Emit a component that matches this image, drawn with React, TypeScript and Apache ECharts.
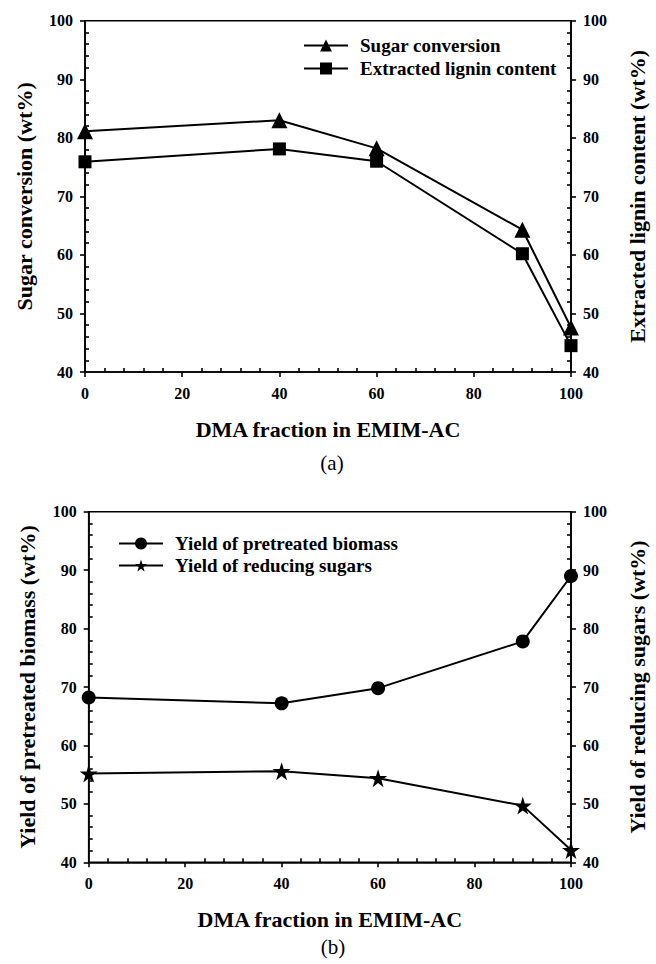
import React, { useEffect, useRef } from "react";
import * as echarts from "echarts";

const dmaFraction = [0, 40, 60, 90, 100];
const sugarConversion = [81.1, 83.0, 78.2, 64.3, 47.6];
const ligninContent = [75.9, 78.1, 76.0, 60.2, 44.5];
const pretreatedYield = [68.2, 67.2, 69.8, 77.8, 89.0];
const reducingSugars = [55.2, 55.6, 54.4, 49.7, 42.1];

const xTitle = "DMA fraction in EMIM-AC";
const panelA = { left: "Sugar conversion (wt%)", right: "Extracted lignin content (wt%)", tag: "(a)" };
const panelB = { left: "Yield of pretreated biomass (wt%)", right: "Yield of reducing sugars (wt%)", tag: "(b)" };

const FONT = "'Liberation Serif', 'Times New Roman', serif";
const STAR = "path://M50,0 L61,35 L98,35 L68,57 L79,91 L50,70 L21,91 L32,57 L2,35 L39,35 Z";

const yMinor: number[] = [];
for (let v = 42; v < 100; v += 2) if (v % 10 !== 0) yMinor.push(v);
const xMinor: number[] = [];
for (let v = 4; v < 100; v += 4) if (v % 20 !== 0) xMinor.push(v);

const pair = (xs: number[], ys: number[]) => xs.map((x, i) => [x, ys[i]]);

export default function App() {
  const ref = useRef<HTMLDivElement>(null);
  useEffect(() => {
    document.body.style.margin = "0";
    document.body.style.overflow = "hidden";
    document.documentElement.style.overflow = "hidden";
    const chart = echarts.init(ref.current!, null, { renderer: "svg", width: 656, height: 964 });
    const lineStyle = { color: "#000", width: 1.6 };
    const labelStyle = { color: "#000", fontFamily: FONT, fontWeight: "bold" as const, fontSize: 16 };
    const nameStyle = { color: "#000", fontFamily: FONT, fontWeight: "bold" as const, fontSize: 22 };

    const mkX = (grid: number, gap: number) => [
      {
        type: "value", gridIndex: grid, min: 0, max: 100, interval: 20, position: "bottom",
        axisLine: { lineStyle }, axisTick: { inside: false, length: 5, lineStyle },
        axisLabel: { ...labelStyle, margin: 13 }, splitLine: { show: false },
        name: xTitle, nameLocation: "middle", nameGap: gap, nameTextStyle: nameStyle,
      },
      {
        type: "value", gridIndex: grid, min: 0, max: 100, position: "bottom",
        axisLine: { show: false }, axisTick: { inside: true, length: 4, lineStyle, customValues: xMinor },
        axisLabel: { show: false }, splitLine: { show: false },
      },
    ];
    const mkY = (grid: number, pos: "left" | "right", name: string, gap: number) => [
      {
        type: "value", gridIndex: grid, min: 40, max: 100, interval: 10, position: pos,
        axisLine: { show: true, lineStyle }, axisTick: { show: true, inside: false, length: 5, lineStyle },
        axisLabel: { ...labelStyle, margin: 12 }, splitLine: { show: false },
        name, nameLocation: "middle", nameGap: gap, nameRotate: 90, nameTextStyle: nameStyle,
      },
      {
        type: "value", gridIndex: grid, min: 40, max: 100, position: pos,
        axisLine: { show: false }, axisTick: { show: true, inside: true, length: 4, lineStyle, customValues: yMinor },
        axisLabel: { show: false }, splitLine: { show: false },
      },
    ];

    const seriesBase = {
      type: "line", lineStyle: { color: "#000", width: 2 }, itemStyle: { color: "#000" }, z: 5,
    };
    const legendText = { color: "#000", fontFamily: FONT, fontWeight: "bold", fontSize: 19, padding: [0, 0, 0, 7] };

    chart.setOption({
      animation: false,
      backgroundColor: "#fff",
      grid: [
        { left: 85, width: 495, top: 20.7, height: 351.3, show: true, borderColor: "#000", borderWidth: 1.6 },
        { left: 88.7, width: 486.6, top: 511.7, height: 350.6, show: true, borderColor: "#000", borderWidth: 1.6 },
      ],
      xAxis: [...mkX(0, 46), ...mkX(1, 46)],
      yAxis: [
        ...mkY(0, "left", panelA.left, 50),
        ...mkY(0, "right", panelA.right, 55),
        ...mkY(1, "left", panelB.left, 50),
        ...mkY(1, "right", panelB.right, 55),
      ],
      legend: [
        {
          left: 298, top: 31, orient: "vertical", itemWidth: 44, itemHeight: 15, itemGap: 4,
          textStyle: legendText,
          data: ["Sugar conversion", "Extracted lignin content"],
        },
        {
          left: 113, top: 529, orient: "vertical", itemWidth: 44, itemHeight: 15, itemGap: 3,
          textStyle: legendText,
          data: ["Yield of pretreated biomass", "Yield of reducing sugars"],
        },
      ],
      series: [
        { ...seriesBase, name: "Sugar conversion", xAxisIndex: 0, yAxisIndex: 0, symbol: "triangle", symbolSize: 16, data: pair(dmaFraction, sugarConversion) },
        { ...seriesBase, name: "Extracted lignin content", xAxisIndex: 0, yAxisIndex: 2, symbol: "rect", symbolSize: 13, data: pair(dmaFraction, ligninContent) },
        { ...seriesBase, name: "Yield of pretreated biomass", xAxisIndex: 2, yAxisIndex: 4, symbol: "circle", symbolSize: 14, data: pair(dmaFraction, pretreatedYield) },
        { ...seriesBase, name: "Yield of reducing sugars", xAxisIndex: 2, yAxisIndex: 6, symbol: STAR, symbolSize: 18, data: pair(dmaFraction, reducingSugars) },
      ],
      graphic: [
        { type: "text", x: 332, y: 463, style: { text: panelA.tag, fontFamily: FONT, fontSize: 21, fill: "#000", textAlign: "center", textVerticalAlign: "middle" } },
        { type: "text", x: 333, y: 947, style: { text: panelB.tag, fontFamily: FONT, fontSize: 21, fill: "#000", textAlign: "center", textVerticalAlign: "middle" } },
      ],
    });
    return () => chart.dispose();
  }, []);
  return <div ref={ref} style={{ width: 656, height: 964 }} />;
}
